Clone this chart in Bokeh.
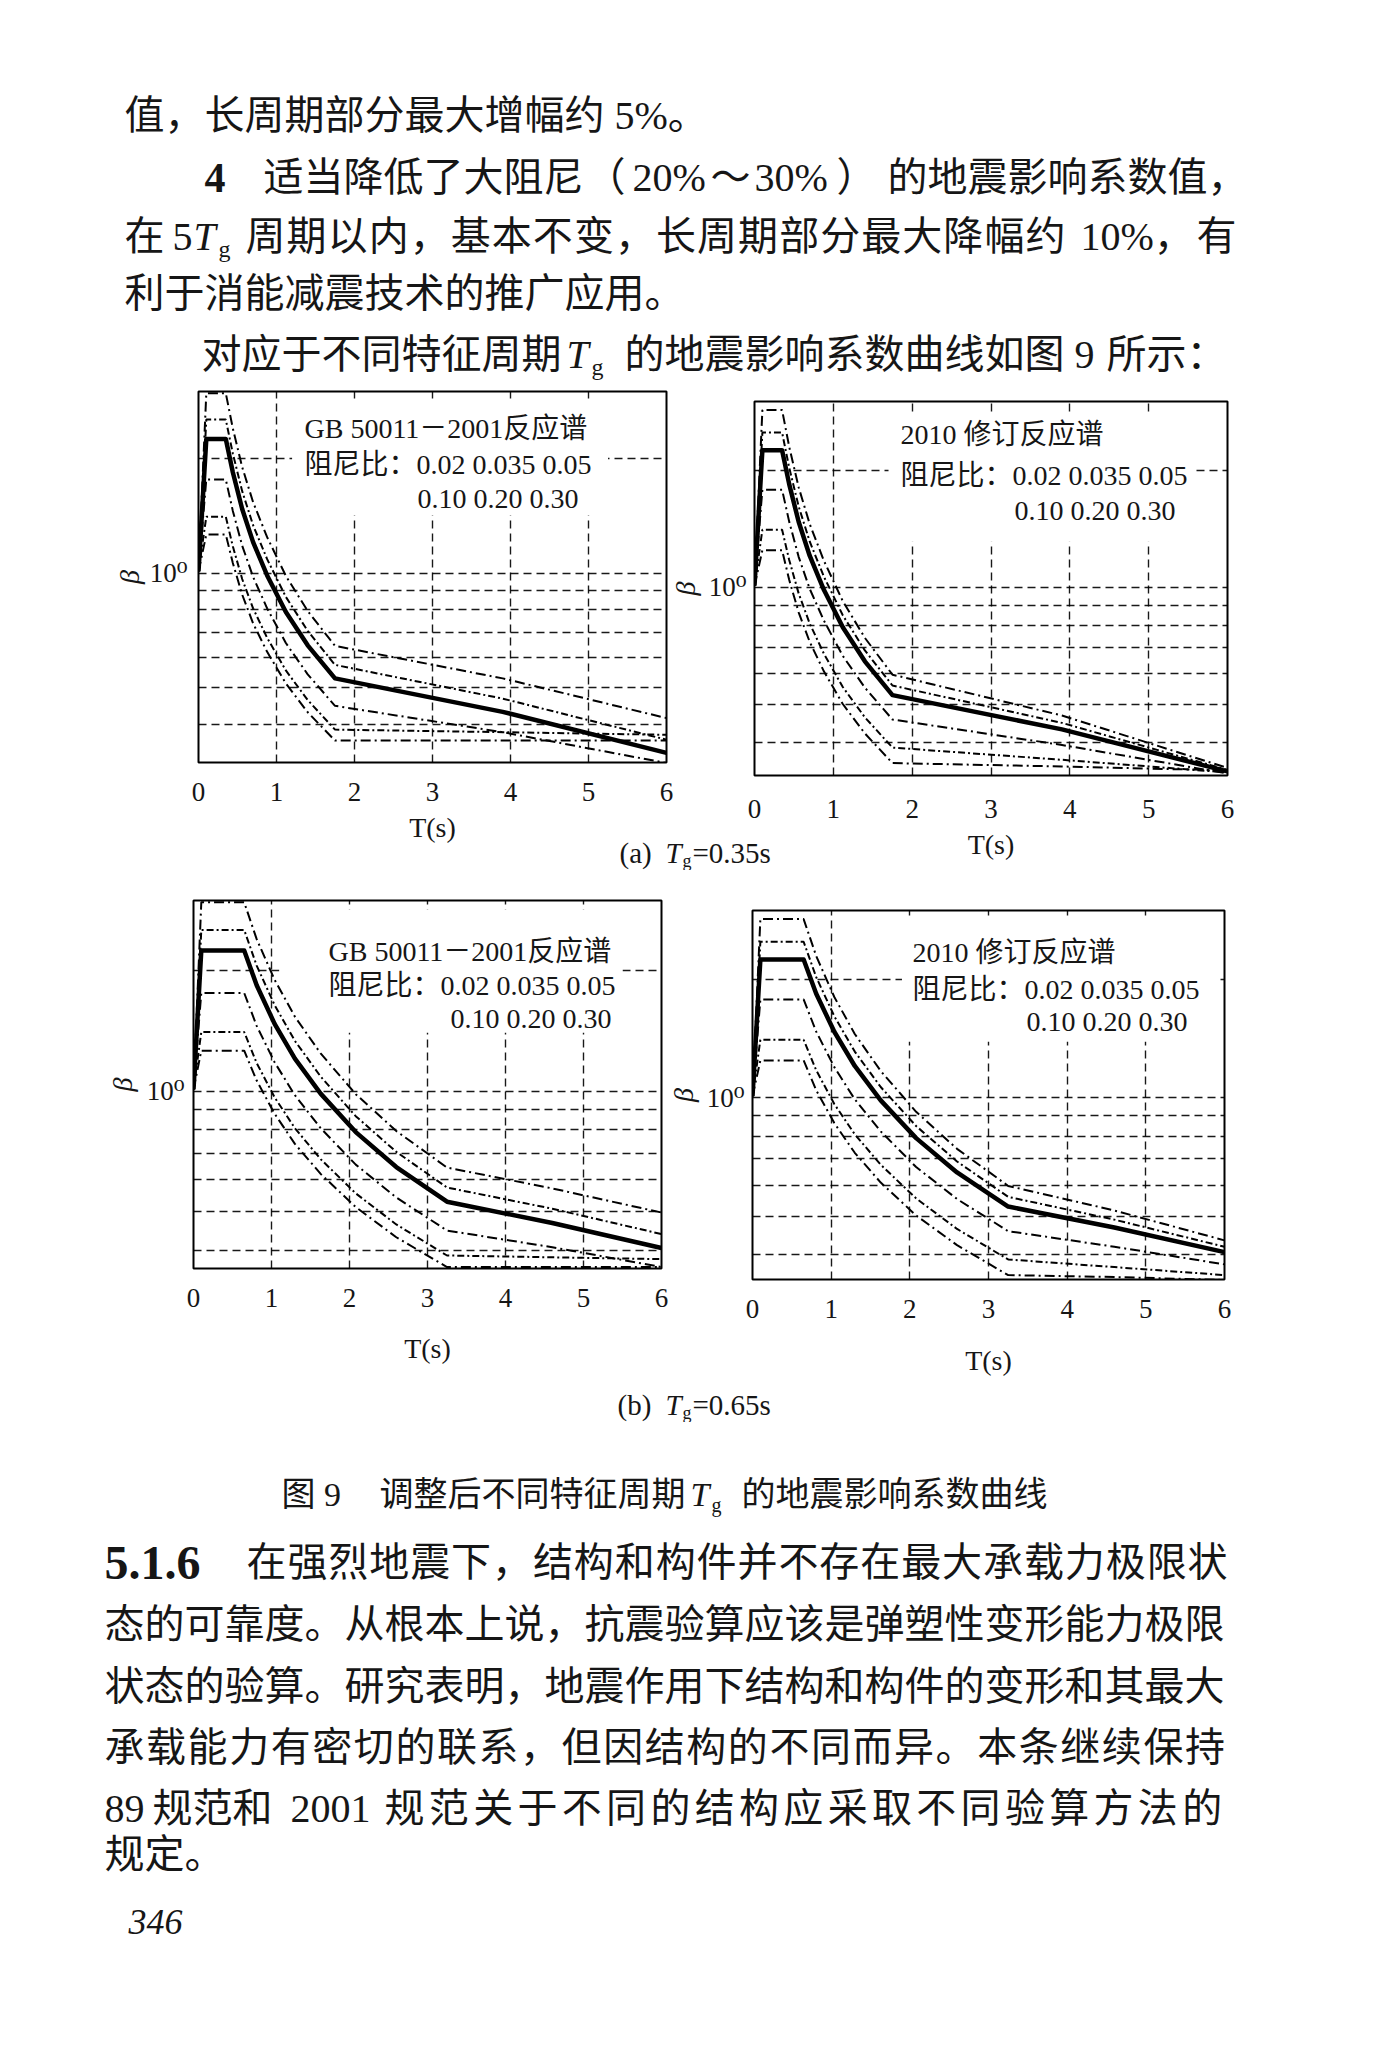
import math
from bokeh.plotting import figure
from bokeh.models import Range1d, FixedTicker, Label, BoxAnnotation
from bokeh.layouts import column, row
from bokeh.core.properties import value
from bokeh.embed import file_html
from bokeh.resources import INLINE

INK = "#161616"
CJK = "Liberation Serif, Noto Sans CJK SC"
SERIF = "Liberation Serif, DejaVu Serif"

# ---------------- data ----------------
DAMPING = ["0.02", "0.035", "0.05", "0.10", "0.20", "0.30"]
T_TICKS = [0, 1, 2, 3, 4, 5, 6]
T_GRID = [1, 2, 3, 4, 5]
BETA_GRID = [0.4, 0.5, 0.6, 0.7, 0.8, 0.9, 1.0, 2.0]
BETA_TICKS = [1.0]

# periods T (s) along the curves: (a) Tg = 0.35 s, (b) Tg = 0.65 s
T_A = [0, 0.1, 0.35, 0.44, 0.56, 0.70, 0.88, 1.12, 1.40, 1.75, 3.90, 6.0]
T_B = [0, 0.1, 0.65, 0.81, 1.04, 1.30, 1.63, 2.08, 2.60, 3.25, 4.60, 6.0]

# GB 50011-2001 spectrum, Tg = 0.35 s
gb_a_002 = [1.01, 2.968, 2.968, 2.401, 1.899, 1.536, 1.243, 0.983, 0.795, 0.644, 0.529, 0.416]
gb_a_0035 = [1.01, 2.532, 2.532, 2.061, 1.642, 1.336, 1.088, 0.866, 0.705, 0.574, 0.468, 0.365]
gb_a_005 = [1.01, 2.250, 2.250, 1.841, 1.474, 1.206, 0.986, 0.790, 0.646, 0.529, 0.432, 0.337]
gb_a_010 = [1.01, 1.761, 1.761, 1.457, 1.181, 0.977, 0.808, 0.655, 0.542, 0.448, 0.382, 0.317]
gb_a_020 = [1.01, 1.406, 1.406, 1.176, 0.965, 0.808, 0.676, 0.555, 0.464, 0.388, 0.382, 0.376]
gb_a_030 = [1.01, 1.263, 1.263, 1.063, 0.878, 0.738, 0.621, 0.513, 0.431, 0.363, 0.363, 0.363]

# 2010 revised spectrum, Tg = 0.35 s
rv_a_002 = [1.01, 2.853, 2.853, 2.297, 1.807, 1.455, 1.171, 0.922, 0.742, 0.597, 0.469, 0.344]
rv_a_0035 = [1.01, 2.498, 2.498, 2.030, 1.614, 1.312, 1.066, 0.848, 0.689, 0.560, 0.449, 0.340]
rv_a_005 = [1.01, 2.250, 2.250, 1.841, 1.474, 1.206, 0.986, 0.790, 0.646, 0.529, 0.432, 0.337]
rv_a_010 = [1.01, 1.781, 1.781, 1.475, 1.198, 0.992, 0.822, 0.667, 0.553, 0.458, 0.394, 0.333]
rv_a_020 = [1.01, 1.406, 1.406, 1.176, 0.965, 0.808, 0.676, 0.555, 0.464, 0.388, 0.361, 0.335]
rv_a_030 = [1.01, 1.246, 1.246, 1.046, 0.863, 0.725, 0.609, 0.502, 0.422, 0.354, 0.347, 0.339]

# GB 50011-2001 spectrum, Tg = 0.65 s
gb_b_002 = [1.01, 2.968, 2.968, 2.401, 1.899, 1.536, 1.243, 0.983, 0.795, 0.644, 0.571, 0.497]
gb_b_0035 = [1.01, 2.532, 2.532, 2.061, 1.642, 1.336, 1.088, 0.866, 0.705, 0.574, 0.508, 0.439]
gb_b_005 = [1.01, 2.250, 2.250, 1.841, 1.474, 1.206, 0.986, 0.790, 0.646, 0.529, 0.468, 0.405]
gb_b_010 = [1.01, 1.761, 1.761, 1.457, 1.181, 0.977, 0.808, 0.655, 0.542, 0.448, 0.407, 0.363]
gb_b_020 = [1.01, 1.406, 1.406, 1.176, 0.965, 0.808, 0.676, 0.555, 0.464, 0.388, 0.384, 0.380]
gb_b_030 = [1.01, 1.263, 1.263, 1.063, 0.878, 0.738, 0.621, 0.513, 0.431, 0.363, 0.363, 0.363]

# 2010 revised spectrum, Tg = 0.65 s
rv_b_002 = [1.01, 2.853, 2.853, 2.297, 1.807, 1.455, 1.171, 0.922, 0.742, 0.597, 0.517, 0.434]
rv_b_0035 = [1.01, 2.498, 2.498, 2.030, 1.614, 1.312, 1.066, 0.848, 0.689, 0.560, 0.490, 0.418]
rv_b_005 = [1.01, 2.250, 2.250, 1.841, 1.474, 1.206, 0.986, 0.790, 0.646, 0.529, 0.468, 0.405]
rv_b_010 = [1.01, 1.781, 1.781, 1.475, 1.198, 0.992, 0.822, 0.667, 0.553, 0.458, 0.418, 0.377]
rv_b_020 = [1.01, 1.406, 1.406, 1.176, 0.965, 0.808, 0.676, 0.555, 0.464, 0.388, 0.371, 0.354]
rv_b_030 = [1.01, 1.246, 1.246, 1.046, 0.863, 0.725, 0.609, 0.502, 0.422, 0.354, 0.350, 0.344]

DD1 = "10 4 2 4"
DD2 = "7 3 2 3"


# ---------------- helpers ----------------
def no_align(p):
    if "frame_align" in p.properties():
        p.frame_align = False


def page_fig(x0, y0, w, h, fill="white"):
    """A text canvas whose data coordinates are the page pixels it covers."""
    p = figure(width=w, height=h, x_range=Range1d(x0, x0 + w), y_range=Range1d(y0 + h, y0),
               x_axis_type=None, y_axis_type=None, output_backend="svg",
               toolbar_location=None, min_border=0, title=None)
    p.outline_line_color = None
    p.background_fill_color = fill
    p.border_fill_color = fill
    no_align(p)
    return p


def put(p, x, y, txt, size=40, font=CJK, style="normal"):
    p.text(x=[x], y=[y], text=[txt], text_font=value(font),
           text_font_size=value(f"{size}px"), text_font_style=value(style),
           text_baseline=value("middle"), text_align=value("left"), text_color=INK)


def spread(p, x0, x1, y, txt, size=40, font=CJK):
    """Justified run of CJK characters between x0 and x1."""
    n = len(txt)
    step = (x1 - x0) / n
    p.text(x=[x0 + i * step for i in range(n)], y=[y] * n, text=list(txt),
           text_font=value(font), text_font_size=value(f"{size}px"),
           text_baseline=value("middle"), text_align=value("left"), text_color=INK)


def make_chart(origin, size, frame, y_lo, y_hi, T, series, legend, box,
               x_so, y_so, margin_left=0):
    ox, oy = origin
    w, h = size
    fx0, fy0, fx1, fy1 = frame
    p = figure(width=w, height=h, x_range=Range1d(0, 6), y_range=Range1d(y_lo, y_hi),
               y_axis_type="log", output_backend="svg", toolbar_location=None, title=None,
               min_border_left=fx0 - ox, min_border_right=ox + w - fx1,
               min_border_top=fy0 - oy, min_border_bottom=oy + h - fy1)
    no_align(p)
    if margin_left:
        p.margin = (0, 0, 0, margin_left)
    p.border_fill_color = None
    p.background_fill_color = "white"
    p.outline_line_color = "black"
    p.outline_line_width = 2
    p.outline_line_alpha = 1

    xg = p.xgrid[0]
    yg = p.ygrid[0]
    xg.ticker = FixedTicker(ticks=T_GRID)
    yg.ticker = FixedTicker(ticks=BETA_GRID)
    for g in (xg, yg):
        g.grid_line_color = "black"
        g.grid_line_alpha = 0.9
        g.grid_line_width = 1.4
        g.grid_line_dash = "8 5"
        g.minor_grid_line_color = None

    xa = p.xaxis[0]
    ya = p.yaxis[0]
    xa.ticker = FixedTicker(ticks=T_TICKS)
    ya.ticker = FixedTicker(ticks=BETA_TICKS)
    ya.major_label_overrides = {1: "10⁰"}
    for a in (xa, ya):
        a.axis_line_color = None
        a.major_tick_line_color = None
        a.minor_tick_line_color = None
        a.major_tick_out = 0
        a.major_tick_in = 0
        a.minor_tick_out = 0
        a.minor_tick_in = 0
        a.major_label_text_font = SERIF
        a.major_label_text_font_size = "27px"
        a.major_label_text_color = INK
        a.axis_label_text_font = SERIF
        a.axis_label_text_font_size = "28px"
        a.axis_label_text_color = INK
    ya.major_label_text_baseline = "alphabetic"
    xa.axis_label = "T(s)"
    xa.axis_label_text_font_style = "normal"
    ya.axis_label = "β"
    ya.axis_label_text_font_style = "italic"
    xa.major_label_standoff, xa.axis_label_standoff = x_so
    ya.major_label_standoff, ya.axis_label_standoff = y_so

    bl, br, bb, bt = box
    p.add_layout(BoxAnnotation(left=bl, right=br, bottom=bb, top=bt, fill_color="white",
                               fill_alpha=1.0, line_color=None, level="underlay"))

    for ys, kind in series:
        if kind == "solid":
            p.line(T, ys, line_color="black", line_width=4.5, line_join="round")
        else:
            p.line(T, ys, line_color="black", line_width=2.0, line_dash=kind)

    lhi, llo = math.log10(y_hi), math.log10(y_lo)

    def dx(px):
        return (px - fx0) / (fx1 - fx0) * 6.0

    def dy(py):
        return 10 ** (lhi - (py - fy0) / (fy1 - fy0) * (lhi - llo))

    for px, py, txt in legend:
        p.add_layout(Label(x=dx(px), y=dy(py), text=txt, text_font=CJK, text_font_size="28px",
                           text_baseline="middle", text_align="left", text_color=INK))
    return p


# ---------------- top text ----------------
top = page_fig(0, 0, 1400, 385)
put(top, 124, 115, "值，长周期部分最大增幅约")
put(top, 614, 115, "5%。")
put(top, 204, 177, "4", size=42, font=SERIF, style="bold")
put(top, 263, 177, "适当降低了大阻尼")
put(top, 585, 177, "（")
put(top, 632, 177, "20%")
put(top, 710, 177, "～")
put(top, 754, 177, "30%")
put(top, 836, 177, "）")
put(top, 887, 177, "的地震影响系数值，")
put(top, 124, 236, "在")
put(top, 172, 236, "5", font=SERIF)
put(top, 193, 236, "T", font=SERIF, style="italic")
put(top, 218, 248, "g", size=24, font=SERIF)
spread(top, 245, 1066, 236, "周期以内，基本不变，长周期部分最大降幅约")
put(top, 1080, 236, "10%，")
put(top, 1196, 236, "有")
put(top, 124, 293, "利于消能减震技术的推广应用。")
put(top, 201, 354, "对应于不同特征周期")
put(top, 566, 354, "T", font=SERIF, style="italic")
put(top, 591, 366, "g", size=24, font=SERIF)
put(top, 624, 354, "的地震影响系数曲线如图")
put(top, 1074, 354, "9", font=SERIF)
put(top, 1106, 354, "所示：")

# ---------------- charts ----------------
LEG_A_L = [(304, 428, "GB 50011－2001反应谱"), (304, 464, "阻尼比：0.02 0.035 0.05"),
           (417, 498, "0.10 0.20 0.30")]
LEG_A_R = [(900, 434, "2010 修订反应谱"), (900, 475, "阻尼比：0.02 0.035 0.05"),
           (1014, 510, "0.10 0.20 0.30")]
LEG_B_L = [(328, 951, "GB  50011－2001反应谱"), (328, 985, "阻尼比：0.02 0.035 0.05"),
           (450, 1018, "0.10 0.20 0.30")]
LEG_B_R = [(912, 952, "2010 修订反应谱"), (912, 989, "阻尼比：0.02 0.035 0.05"),
           (1026, 1021, "0.10 0.20 0.30")]

fa_left = make_chart((0, 385), (700, 485), (198, 391, 666, 762), 0.318, 3.0, T_A,
                     [(gb_a_002, DD1), (gb_a_0035, DD2), (gb_a_005, "solid"),
                      (gb_a_010, DD1), (gb_a_020, DD2), (gb_a_030, DD1)],
                     LEG_A_L, (1.2, 5.25, 1.42, 2.8), (20, 8), (11, 2))
fa_right = make_chart((600, 385), (800, 485), (754, 401, 1227, 775), 0.329, 3.0, T_A,
                      [(rv_a_002, DD1), (rv_a_0035, DD2), (rv_a_005, "solid"),
                       (rv_a_010, DD1), (rv_a_020, DD2), (rv_a_030, DD1)],
                      LEG_A_R, (1.7, 5.6, 1.31, 2.8), (24, 8), (8, 5), margin_left=-100)
fb_left = make_chart((0, 870), (700, 560), (193, 900, 661, 1268), 0.36, 3.0, T_B,
                     [(gb_b_002, DD1), (gb_b_0035, DD2), (gb_b_005, "solid"),
                      (gb_b_010, DD1), (gb_b_020, DD2), (gb_b_030, DD1)],
                     LEG_B_L, (1.1, 5.5, 1.40, 2.85), (20, 23), (9, 6))
fb_right = make_chart((600, 870), (800, 560), (752, 910, 1224, 1279), 0.345, 3.0, T_B,
                      [(rv_b_002, DD1), (rv_b_0035, DD2), (rv_b_005, "solid"),
                       (rv_b_010, DD1), (rv_b_020, DD2), (rv_b_030, DD1)],
                      LEG_B_R, (1.9, 5.9, 1.39, 2.85), (20, 24), (8, 5), margin_left=-100)

# sub-figure captions, laid over the gap below the two panels
cap_a = page_fig(609, 834, 190, 36, fill=None)
cap_a.margin = (834 - 870, 0, 0, 609)
put(cap_a, 619, 852, "(a)", size=29, font=SERIF)
put(cap_a, 665, 852, "T", size=29, font=SERIF, style="italic")
put(cap_a, 682, 860, "g", size=18, font=SERIF)
put(cap_a, 692, 852, "=0.35s", size=29, font=SERIF)

cap_b = page_fig(606, 1386, 190, 36, fill=None)
cap_b.margin = (1386 - 1430, 0, 8, 606)
put(cap_b, 617, 1404, "(b)", size=29, font=SERIF)
put(cap_b, 665, 1404, "T", size=29, font=SERIF, style="italic")
put(cap_b, 682, 1412, "g", size=18, font=SERIF)
put(cap_b, 692, 1404, "=0.65s", size=29, font=SERIF)

# ---------------- bottom text ----------------
bot = page_fig(0, 1430, 1400, 618)
put(bot, 281, 1494, "图 9", size=34)
put(bot, 379, 1494, "调整后不同特征周期", size=34)
put(bot, 690, 1494, "T", size=34, font=SERIF, style="italic")
put(bot, 711, 1504, "g", size=20, font=SERIF)
put(bot, 741, 1494, "的地震影响系数曲线", size=34)
put(bot, 104, 1562, "5.1.6", size=48, font=SERIF, style="bold")
spread(bot, 246, 1228, 1562, "在强烈地震下，结构和构件并不存在最大承载力极限状")
put(bot, 104, 1624, "态的可靠度。从根本上说，抗震验算应该是弹塑性变形能力极限")
put(bot, 104, 1686, "状态的验算。研究表明，地震作用下结构和构件的变形和其最大")
spread(bot, 104, 1226, 1747, "承载能力有密切的联系，但因结构的不同而异。本条继续保持")
put(bot, 104, 1808, "89", font=SERIF)
put(bot, 152, 1808, "规范和")
put(bot, 290, 1808, "2001", font=SERIF)
spread(bot, 384, 1226, 1808, "规范关于不同的结构应采取不同验算方法的")
put(bot, 104, 1854, "规定。")
put(bot, 128, 1921, "346", size=36, font=SERIF, style="italic")

layout = column(top, row(fa_left, fa_right), cap_a, row(fb_left, fb_right), cap_b, bot)
open("out.html", "w").write(file_html(layout, INLINE, "346"))
